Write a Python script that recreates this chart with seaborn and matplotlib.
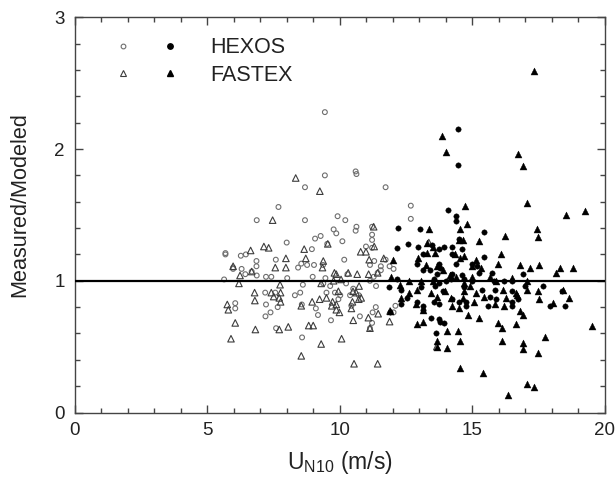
import numpy as np
import pandas as pd
import matplotlib
matplotlib.use("Agg")
import matplotlib.pyplot as plt
import seaborn as sns
from matplotlib.legend_handler import HandlerTuple
from matplotlib.lines import Line2D

# HEXOS, U < 12 (open circles)
hexos_lo_u = [9.44, 9.44, 10.63, 10.60, 8.69, 11.73, 7.69, 6.87, 8.69, 9.92, 10.21, 12.68, 12.68,
              9.77, 10.63, 10.60, 11.22, 11.22, 9.28, 9.07, 9.87, 10.10, 8.00, 9.53, 11.22, 5.69,
              5.69, 6.27, 6.46, 8.95, 10.99, 11.22, 6.86, 6.86, 7.59, 10.17, 5.98, 5.98, 6.30,
              6.68, 8.43, 8.55, 8.77, 9.03, 9.37, 11.14, 11.30, 11.55, 11.73, 11.88, 12.03, 6.44,
              6.87, 5.64, 7.22, 7.42, 8.02, 8.98, 9.46, 11.28, 11.43, 11.55, 10.29, 8.61, 9.38,
              9.64, 10.24, 10.51, 11.14, 11.37, 7.19, 7.57, 8.31, 8.51, 9.50, 9.82, 10.02, 10.39,
              10.72, 6.06, 6.06, 7.22, 7.39, 7.66, 8.57, 9.10, 9.18, 9.67, 9.95, 10.44, 10.76,
              11.24, 11.36, 11.22, 11.14, 7.20, 7.60, 8.58, 12.03, 12.10]
hexos_lo_r = [2.28, 1.80, 1.81, 1.83, 1.71, 1.71, 1.56, 1.46, 1.46, 1.49, 1.46, 1.57, 1.47,
              1.39, 1.41, 1.38, 1.41, 1.35, 1.34, 1.32, 1.36, 1.30, 1.29, 1.28, 1.31, 1.21,
              1.20, 1.19, 1.20, 1.24, 1.26, 1.25, 1.15, 1.11, 1.16, 1.16, 1.10, 1.09, 1.09,
              1.07, 1.10, 1.13, 1.12, 1.12, 1.12, 1.12, 1.15, 1.11, 1.16, 1.11, 1.09, 1.05,
              1.04, 1.01, 1.03, 1.03, 1.02, 1.03, 1.02, 1.03, 1.06, 1.08, 1.05, 0.97, 0.98,
              0.96, 0.98, 0.94, 1.00, 0.96, 0.91, 0.91, 0.89, 0.91, 0.91, 0.91, 0.89, 0.89,
              0.89, 0.83, 0.79, 0.82, 0.76, 0.80, 0.82, 0.79, 0.74, 0.70, 0.86, 0.81, 0.73,
              0.76, 0.80, 0.68, 0.64, 0.73, 0.64, 0.57, 0.76, 0.81]

# FASTEX, U < 12 (open triangles)
fastex_lo_u = [8.34, 9.25, 7.47, 11.28, 7.14, 7.32, 6.64, 8.66, 9.55, 10.79, 10.99, 11.30, 13.36,
               7.97, 8.72, 9.38, 7.57, 7.97, 9.35, 11.11, 11.66, 5.98, 6.24, 6.68, 6.20, 7.75,
               9.30, 9.80, 9.87, 9.77, 10.05, 10.32, 10.66, 10.73, 11.09, 11.43, 6.79, 7.42,
               7.51, 7.77, 7.72, 9.50, 9.95, 10.50, 10.62, 10.81, 6.80, 7.77, 8.96, 9.24, 9.73,
               9.87, 10.48, 10.72, 5.76, 5.80, 8.55, 9.70, 9.87, 9.99, 10.44, 11.45, 11.90, 6.06,
               10.51, 11.08, 11.88, 6.82, 7.72, 8.06, 8.83, 9.00, 11.14, 5.90, 10.07, 9.30, 8.55,
               10.54, 11.43, 13.66]
fastex_lo_r = [1.78, 1.68, 1.46, 1.41, 1.26, 1.25, 1.23, 1.24, 1.28, 1.22, 1.22, 1.26, 1.29,
               1.17, 1.17, 1.15, 1.10, 1.10, 1.10, 1.16, 1.17, 1.11, 1.04, 1.07, 0.98, 0.97,
               0.98, 1.06, 1.05, 1.00, 1.01, 1.06, 1.05, 0.96, 1.05, 1.06, 0.91, 0.91,
               0.88, 0.91, 0.87, 0.87, 0.92, 0.92, 0.91, 0.87, 0.85, 0.84, 0.84, 0.86, 0.84,
               0.82, 0.84, 0.86, 0.82, 0.78, 0.81, 0.81, 0.78, 0.76, 0.79, 0.75, 0.77, 0.68,
               0.70, 0.72, 0.69, 0.63, 0.63, 0.65, 0.66, 0.66, 0.64, 0.56, 0.56, 0.52, 0.43,
               0.37, 0.37, 0.50]

# HEXOS, U >= 12 (filled circles)
hexos_hi_u = [14.45, 14.45, 14.10, 14.40, 14.40, 12.18, 13.02, 15.44, 12.58, 12.15, 12.95, 13.47,
              13.93, 14.25, 14.48, 13.73, 14.60, 14.25, 13.14, 12.92, 13.76, 14.40, 15.00, 15.44,
              15.19, 13.14, 13.40, 13.80, 13.66, 14.25, 14.60, 15.26, 15.76, 16.90, 12.15, 13.55,
              13.73, 14.00, 14.18, 14.67, 14.98, 15.80, 16.18, 16.48, 11.85, 12.32, 13.07, 13.58,
              13.88, 14.68, 15.38, 15.85, 16.48, 16.97, 17.67, 12.52, 12.92, 13.55, 14.25, 14.48,
              14.77, 15.67, 15.90, 16.48, 16.73, 12.32, 13.14, 13.76, 14.77, 15.59, 16.48, 17.92,
              13.14, 11.88, 13.44, 13.73, 13.80, 13.93, 13.63, 18.40, 18.50]
hexos_hi_r = [2.15, 1.88, 1.54, 1.49, 1.45, 1.40, 1.39, 1.37, 1.28, 1.25, 1.26, 1.27,
              1.26, 1.26, 1.32, 1.24, 1.24, 1.20, 1.20, 1.13, 1.13, 1.13, 1.13, 1.18,
              1.11, 1.08, 1.08, 1.10, 1.05, 1.05, 1.04, 1.06, 1.06, 1.05, 1.01, 1.01,
              0.98, 1.00, 1.01, 1.01, 1.00, 1.00, 1.00, 1.00, 0.95, 0.93, 0.95, 0.96,
              0.92, 0.95, 0.93, 0.93, 0.92, 0.96, 0.96, 0.87, 0.84, 0.84, 0.86, 0.84,
              0.84, 0.88, 0.86, 0.84, 0.86, 0.82, 0.81, 0.82, 0.81, 0.81, 0.81, 0.81,
              0.78, 0.76, 0.72, 0.71, 0.69, 0.68, 0.60, 0.92, 0.81]

# FASTEX, U >= 12 (filled triangles)
fastex_hi_u = [17.33, 13.84, 14.00, 16.72, 16.93, 17.08, 14.73, 18.52, 19.24, 14.81, 13.36, 14.54,
               17.45, 16.23, 17.49, 15.26, 14.63, 14.48, 13.30, 13.50, 13.28, 13.58, 14.33, 14.54,
               16.07, 12.00, 12.95, 14.69, 15.14, 15.96, 16.78, 17.19, 17.52, 18.29, 18.80, 18.16,
               13.25, 13.66, 13.88, 15.00, 15.32, 14.14, 14.37, 15.00, 15.67, 11.92, 12.62, 13.07,
               13.50, 14.69, 15.91, 16.48, 17.08, 12.27, 12.92, 13.44, 13.96, 14.69, 14.92, 16.14,
               17.08, 17.49, 18.41, 12.62, 13.66, 15.14, 16.63, 12.32, 14.18, 14.65, 15.44, 16.26,
               16.70, 18.63, 17.52, 12.89, 14.25, 15.07, 15.85, 16.18, 18.06, 11.88, 13.14, 14.48,
               14.85, 16.78, 16.93, 15.26, 13.14, 12.92, 15.96, 16.63, 16.11, 14.03, 14.45, 19.53,
               17.74, 13.66, 13.66, 14.54, 16.11, 16.93, 16.90, 14.06, 17.49, 14.54, 15.40, 17.05,
               17.33, 16.36]
fastex_hi_r = [2.59, 2.10, 1.98, 1.96, 1.87, 1.59, 1.57, 1.50, 1.53, 1.43, 1.39, 1.39,
               1.39, 1.34, 1.33, 1.30, 1.31, 1.31, 1.29, 1.26, 1.21, 1.21, 1.20, 1.17,
               1.20, 1.16, 1.17, 1.19, 1.16, 1.13, 1.12, 1.10, 1.12, 1.10, 1.10, 1.06,
               1.12, 1.11, 1.08, 1.11, 1.10, 1.04, 1.03, 1.03, 1.03, 1.03, 1.00, 1.00,
               1.00, 0.98, 1.00, 1.02, 1.00, 0.97, 0.93, 0.91, 0.92, 0.92, 0.96, 0.93,
               0.93, 0.92, 0.93, 0.91, 0.88, 0.91, 0.91, 0.87, 0.87, 0.87, 0.88, 0.87,
               0.89, 0.87, 0.86, 0.82, 0.81, 0.84, 0.82, 0.81, 0.83, 0.77, 0.78, 0.79,
               0.74, 0.77, 0.74, 0.72, 0.69, 0.67, 0.68, 0.67, 0.64, 0.62, 0.62, 0.66,
               0.57, 0.54, 0.50, 0.54, 0.54, 0.53, 0.48, 0.49, 0.45, 0.34, 0.30, 0.22,
               0.19, 0.13]

sns.set_style("ticks")
plt.rcParams["font.family"] = ["Liberation Sans", "DejaVu Sans"]
plt.rcParams["mathtext.fontset"] = "custom"
plt.rcParams["mathtext.rm"] = "Liberation Sans"
plt.rcParams["mathtext.it"] = "Liberation Sans"

fig = plt.figure(figsize=(6.16, 4.8), dpi=100)
ax = fig.add_axes([0.121, 0.1406, 0.861, 0.8234])

sns.scatterplot(x=hexos_lo_u, y=hexos_lo_r, marker="o", s=12, facecolor="none",
                edgecolor="#6e6e6e", linewidth=0.8, ax=ax)
sns.scatterplot(x=fastex_lo_u, y=fastex_lo_r, marker="^", s=22, facecolor="none",
                edgecolor="#3c3c3c", linewidth=0.8, ax=ax)
sns.scatterplot(x=hexos_hi_u, y=hexos_hi_r, marker="o", s=15, color="black",
                edgecolor="black", linewidth=0.3, ax=ax)
sns.scatterplot(x=fastex_hi_u, y=fastex_hi_r, marker="^", s=25, color="black",
                edgecolor="black", linewidth=0.3, ax=ax)

ax.axhline(1, color="black", lw=1.6, zorder=3)

ax.set_xlim(0, 20)
ax.set_ylim(0, 3)
ax.set_xticks([0, 5, 10, 15, 20])
ax.set_yticks([0, 1, 2, 3])
ax.set_xticks(np.arange(0, 21, 1), minor=True)
ax.set_yticks(np.arange(0, 3.01, 0.2), minor=True)
ax.tick_params(which="both", direction="in", top=True, right=True, color="#444444",
               labelsize=13.5, labelcolor="#222222")
ax.tick_params(which="major", length=6, width=1)
ax.tick_params(which="minor", length=3.5, width=1)
ax.tick_params(axis="x", which="major", pad=7)
ax.tick_params(axis="y", which="major", pad=7)
for sp in ax.spines.values():
    sp.set_color("#444444")
    sp.set_linewidth(1.0)

ax.set_xlabel(r"U$_{\mathrm{N10}}$ (m/s)", fontsize=16.5, color="#222222")
ax.set_ylabel("Measured/Modeled", fontsize=15.6, color="#222222")
ax.xaxis.set_label_coords(0.5, -0.093)
ax.yaxis.set_label_coords(-0.083, 0.525)

h1 = Line2D([], [], ls="none", marker="o", ms=3.4, mfc="none", mec="#6e6e6e", mew=0.8)
h2 = Line2D([], [], ls="none", marker="o", ms=3.9, mfc="black", mec="black")
h3 = Line2D([], [], ls="none", marker="^", ms=4.7, mfc="none", mec="#3c3c3c", mew=0.8)
h4 = Line2D([], [], ls="none", marker="^", ms=5.0, mfc="black", mec="black")
ax.legend(handles=[(h1, h2), (h3, h4)], labels=["HEXOS", "FASTEX"],
          handler_map={tuple: HandlerTuple(ndivide=None, pad=0.8)},
          loc="upper left", bbox_to_anchor=(0.063, 0.95), frameon=False,
          borderpad=0, borderaxespad=0, handlelength=3.6, handletextpad=1.15,
          labelspacing=0.32, fontsize=15.5, labelcolor="#222222")

fig.savefig("out.png", dpi=100)
